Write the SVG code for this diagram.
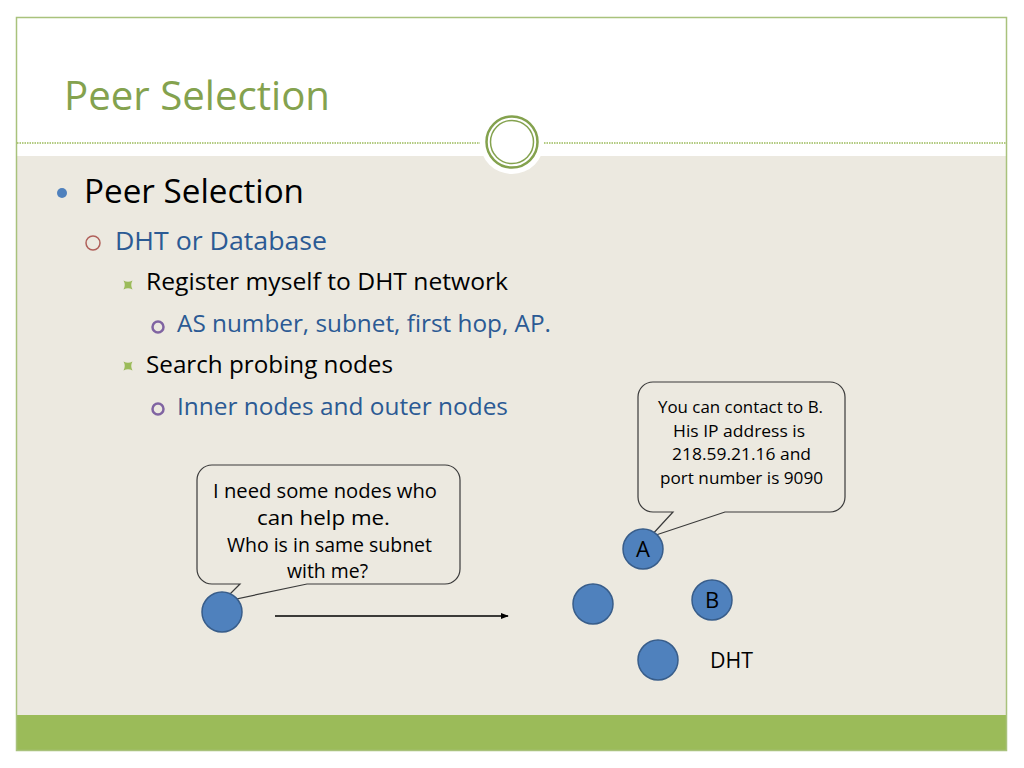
<svg xmlns="http://www.w3.org/2000/svg" width="1024" height="768" viewBox="0 0 1024 768">
<defs>
<style>
text{font-family:"Open Sans","Noto Sans","Liberation Sans",sans-serif;}
.title{font-size:41px;fill:#84A24E;}
.l1{font-size:32px;fill:#000;}
.l2{font-size:25.5px;fill:#2B5A94;}
.l3{font-size:24px;fill:#000;}
.l4{font-size:24px;fill:#2B5A94;}
.c1{font-size:20px;fill:#000;}
.c2{font-size:17px;fill:#000;}
.lbl{font-size:22px;fill:#000;}
.node{fill:#4F81BD;stroke:#385D8A;stroke-width:1.5;}
.callout{fill:#ECE9E0;stroke:#3A3A3A;stroke-width:1.2;}
.edge{stroke:#000;stroke-width:1.3;fill:none;}
.ring{fill:none;stroke:#8064A2;stroke-width:2.5;}
</style>
<marker id="arrow" viewBox="0 0 10 10" refX="9" refY="5" markerWidth="8" markerHeight="8" orient="auto" markerUnits="userSpaceOnUse">
<path d="M0,1 L10,5 L0,9 Z" fill="#000"/>
</marker>
<path id="star" d="M-4.5,-4.5 Q0,-2 4.5,-4.5 Q2,0 4.5,4.5 Q0,2 -4.5,4.5 Q-2,0 -4.5,-4.5 Z" fill="#9BBB59"/>
</defs>

<!-- frame and background -->
<rect x="0" y="0" width="1024" height="768" fill="#FFFFFF"/>
<rect x="17" y="156" width="989" height="559" fill="#ECE9E0"/>
<rect x="17" y="715" width="989" height="35" fill="#9BBB59"/>
<rect x="16.5" y="17.5" width="990" height="733" fill="none" stroke="#A9C27C" stroke-width="1.5"/>
<line x1="17" y1="143" x2="480" y2="143" stroke="#9BBB59" stroke-width="1.5" stroke-dasharray="1.5 1"/>
<line x1="544" y1="143" x2="1006" y2="143" stroke="#9BBB59" stroke-width="1.5" stroke-dasharray="1.5 1"/>
<circle cx="512" cy="142" r="32" fill="#FFFFFF"/>
<circle cx="512" cy="142" r="25.5" fill="none" stroke="#84A24E" stroke-width="2.5"/>
<circle cx="512" cy="142" r="21.5" fill="none" stroke="#84A24E" stroke-width="1.5"/>

<text class="title" x="64" y="110" textLength="266" lengthAdjust="spacingAndGlyphs">Peer Selection</text>

<!-- bullets -->
<g id="bullets">
<circle cx="62" cy="193" r="5" fill="#4F81BD"/>
<text class="l1" x="84" y="203" textLength="220" lengthAdjust="spacingAndGlyphs">Peer Selection</text>
<circle cx="93" cy="243" r="7" fill="none" stroke="#B0605A" stroke-width="1.5"/>
<text class="l2" x="115" y="250" textLength="212" lengthAdjust="spacingAndGlyphs">DHT or Database</text>
<use href="#star" x="128" y="285"/>
<text class="l3" x="146" y="290" textLength="362" lengthAdjust="spacingAndGlyphs">Register myself to DHT network</text>
<circle class="ring" cx="158" cy="327" r="5.5"/>
<text class="l4" x="177" y="332" textLength="374" lengthAdjust="spacingAndGlyphs">AS number, subnet, first hop, AP.</text>
<use href="#star" x="128" y="366"/>
<text class="l3" x="146" y="373" textLength="247" lengthAdjust="spacingAndGlyphs">Search probing nodes</text>
<circle class="ring" cx="158" cy="409" r="5.5"/>
<text class="l4" x="177" y="415" textLength="331" lengthAdjust="spacingAndGlyphs">Inner nodes and outer nodes</text>
</g>

<!-- connectors -->
<g id="connectors">
<line class="edge" x1="275" y1="616" x2="508" y2="616" marker-end="url(#arrow)"/>
</g>

<!-- callout 1 -->
<g id="callout-request">
<path class="callout" d="M212,465 H445 A15,15 0 0 1 460,480 V569 A15,15 0 0 1 445,584 H307 L222,602 L240,584 H212 A15,15 0 0 1 197,569 V480 A15,15 0 0 1 212,465 Z"/>
<text class="c1" x="213" y="498" textLength="224" lengthAdjust="spacingAndGlyphs">I need some nodes who</text>
<text class="c1" x="257" y="525" textLength="133" lengthAdjust="spacingAndGlyphs">can help me.</text>
<text class="c1" x="227" y="552" textLength="205" lengthAdjust="spacingAndGlyphs">Who is in same subnet</text>
<text class="c1" x="287" y="578" textLength="81" lengthAdjust="spacingAndGlyphs">with me?</text>
</g>

<!-- callout 2 -->
<g id="callout-reply">
<path class="callout" d="M653,382 H830 A15,15 0 0 1 845,397 V497 A15,15 0 0 1 830,512 H725 L650,537 L673,512 H653 A15,15 0 0 1 638,497 V397 A15,15 0 0 1 653,382 Z"/>
<text class="c2" x="658" y="413" textLength="165" lengthAdjust="spacingAndGlyphs">You can contact to B.</text>
<text class="c2" x="673" y="437" textLength="132" lengthAdjust="spacingAndGlyphs">His IP address is</text>
<text class="c2" x="672" y="460" textLength="139" lengthAdjust="spacingAndGlyphs">218.59.21.16 and</text>
<text class="c2" x="660" y="484" textLength="163" lengthAdjust="spacingAndGlyphs">port number is 9090</text>
</g>

<!-- nodes -->
<g id="node-me"><circle class="node" cx="222" cy="612" r="20"/></g>
<g id="node-A"><circle class="node" cx="643" cy="549" r="20"/><text class="lbl" x="643" y="557" text-anchor="middle">A</text></g>
<g id="node-left"><circle class="node" cx="593" cy="604" r="20"/></g>
<g id="node-B"><circle class="node" cx="712" cy="600" r="20"/><text class="lbl" x="712" y="608" text-anchor="middle">B</text></g>
<g id="node-bottom"><circle class="node" cx="658" cy="660" r="20"/></g>
<g id="label-dht"><text class="lbl" x="710" y="668" textLength="43" lengthAdjust="spacingAndGlyphs">DHT</text></g>
</svg>
